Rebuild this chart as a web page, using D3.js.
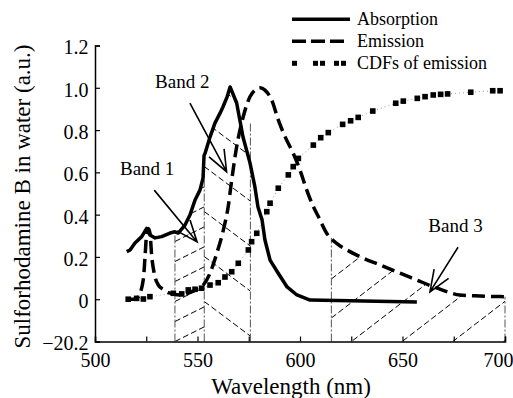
<!DOCTYPE html>
<html>
<head>
<meta charset="utf-8">
<script src="https://cdn.jsdelivr.net/npm/d3@7"></script>
<style>
  html, body { margin: 0; padding: 0; background: #fff; }
  svg { display: block; font-family: "Liberation Serif", "Times New Roman", serif; }
</style>
</head>
<body>
<div id="container"></div>
<script>
const width = 513;
const height = 398;
const marginTop = 45.5;
const marginRight = 8;
const marginBottom = 56.5;
const marginLeft = 95;

// [wavelength nm, value]
const absorption = [[515.5,0.225],[517.1,0.233],[519.5,0.266],[522.8,0.296],[525.2,0.335],[526.8,0.304],
  [529.3,0.29],[532.5,0.296],[536.6,0.313],[539,0.319],[540.6,0.313],[543.9,0.351],[546.3,0.398],
  [548.8,0.469],[551.2,0.516],[552.7,0.573],[553.2,0.68],[553.7,0.69],[556.1,0.767],[558.5,0.833],
  [561,0.88],[562.4,0.909],[564.4,0.956],[565.9,1.004],[569.1,0.928],[572.2,0.767],[575.6,0.645],
  [578,0.531],[579.5,0.436],[581.5,0.375],[582.9,0.28],[585.4,0.185],[589.3,0.124],[593.7,0.058],
  [598.5,0.02],[604.9,-0.004],[657,-0.013]];

const emission = [[515.5,0],[519.5,0],[521.1,0.012],[523.6,0.096],[524.4,0.2],[525.2,0.31],[526,0.335],
  [526.8,0.313],[527.7,0.2],[528.9,0.122],[530.9,0.067],[533.3,0.046],[535.8,0.031],[538.2,0.025],
  [542.3,0.02],[547.2,0.036],[552.8,0.067],[556.1,0.123],[559.4,0.217],[562.6,0.327],[565,0.44],
  [566.5,0.55],[569.1,0.721],[572.3,0.863],[575.6,0.958],[578,0.989],[580.5,1.0],[582.9,0.989],
  [586.2,0.942],[589.4,0.848],[592.7,0.769],[596.7,0.69],[600,0.611],[603.3,0.516],[606.5,0.438],
  [609,0.39],[613,0.312],[617.9,0.264],[624.4,0.225],[630.9,0.194],[639,0.162],[648.8,0.123],
  [656.9,0.091],[665,0.059],[671.6,0.036],[678,0.02],[687.8,0.015],[700,0.012]];

const cdf = [[516.2,0],[520.3,0.004],[523.6,0.001],[526.8,0.012],[538.2,0.028],[542.3,0.025],
  [545.5,0.044],[548.8,0.047],[552,0.052],[556.1,0.067],[560.1,0.078],[563.4,0.105],[566.7,0.13],
  [569.9,0.17],[574.8,0.233],[576.4,0.272],[578.9,0.312],[583.8,0.414],[585.4,0.454],[589.4,0.525],
  [594.3,0.588],[596.7,0.627],[599.2,0.666],[606.5,0.729],[610.1,0.764],[613.8,0.788],[620.8,0.827],
  [624.7,0.844],[628.4,0.86],[635.5,0.89],[646.7,0.927],[650.4,0.937],[657.2,0.95],[661,0.958],
  [665,0.966],[668.6,0.969],[672,0.971],[683.3,0.979],[694,0.986],[697.6,0.986]];

// band edges: [wavelength, top of the dash-dot line]
const bandEdges = [[539,0.319],[553.3,0.59],[575.8,0.84],[615.3,0.29],[700,0.012]];

const bandLabels = ["Band 1", "Band 2", "Band 3"];
const labelPos = [[512.2,0.587],[529.3,0.999],[662.6,0.316]];
const arrowFrom = [[528.9,0.516],[546.3,0.928],[677.1,0.246]];
const arrowTo = [[549.8,0.271],[564.2,0.603],[663.4,0.035]];

const xTicks = d3.range(500, 701, 25);
const yTicks = [-0.2, 0, 0.2, 0.4, 0.6, 0.8, 1.0, 1.2];

const legendItems = ["Absorption", "Emission", "CDFs of emission"];

const x = d3.scaleLinear().domain([500, 700]).range([marginLeft, width - marginRight]);
const y = d3.scaleLinear().domain([-0.2, 1.2]).range([height - marginBottom, marginTop]);

const svg = d3.create("svg")
  .attr("width", width)
  .attr("height", height)
  .attr("viewBox", [0, 0, width, height]);

// hatched band regions
const between = (pts, a, b) => pts.filter(p => p[0] >= a && p[0] <= b);
const band1 = [[539,-0.2], ...between(absorption, 539, 553.3), [553.3,-0.2]];
const band2 = [[553.3,-0.2], ...between(absorption, 553.1, 566), [575.8,0.84], [575.8,-0.2]];
const band3 = [[615.3,-0.2], [615.3,0.29], ...between(emission, 615.4, 700), [700,-0.2]];

// slope: pixel rise per px (positive = going up to the right), spacing vertical px, phase px
const hatch = [
  {poly: band1, slope: 0.5, spacing: 20, phase: 0},
  {poly: band2, slope: -0.75, spacing: 45, phase: 5},
  {poly: band3, slope: 0.77, spacing: 39, phase: 15.5}
];

const defs = svg.append("defs");
hatch.forEach((h, i) => {
  defs.append("clipPath").attr("id", "band" + i)
    .append("polygon")
    .attr("points", h.poly.map(p => [x(p[0]), y(p[1])].join(",")).join(" "));

  const x0 = x(h.poly[0][0]);
  const x1 = x(h.poly[h.poly.length - 1][0]);
  const yb = y(-0.2);
  const lines = [];
  for (let k = -12; k <= 12; k++) {
    const c = yb + h.phase + k * h.spacing;
    lines.push([x0, c, x1, c - h.slope * (x1 - x0)]);
  }
  svg.append("g")
    .attr("clip-path", `url(#band${i})`)
    .selectAll("line")
    .data(lines)
    .join("line")
      .attr("x1", d => d[0]).attr("y1", d => d[1])
      .attr("x2", d => d[2]).attr("y2", d => d[3])
      .attr("stroke", "#000")
      .attr("stroke-width", 1)
      .attr("stroke-dasharray", "6,3");
});

svg.append("g")
  .selectAll("line")
  .data(bandEdges)
  .join("line")
    .attr("x1", d => x(d[0])).attr("x2", d => x(d[0]))
    .attr("y1", y(-0.2)).attr("y2", d => y(d[1]))
    .attr("stroke", "#555")
    .attr("stroke-width", 1)
    .attr("stroke-dasharray", "8,2,2,2");

// axes
svg.append("g")
  .attr("transform", `translate(0,${y(-0.2)})`)
  .call(d3.axisBottom(x).tickValues(xTicks).tickSize(-5).tickPadding(11)
    .tickFormat(d => d % 50 === 0 ? d : ""))
  .call(g => g.select(".domain").attr("stroke-width", 1.5))
  .call(g => g.selectAll(".tick line").attr("stroke-width", 1.2))
  .call(g => g.selectAll("text").attr("font-size", 20).attr("font-family", "Liberation Serif"))
  // last label sits flush with the right edge, as in the original
  .call(g => g.selectAll(".tick text").filter(d => d === 700).attr("text-anchor", "end").attr("x", 8));

svg.append("g")
  .attr("transform", `translate(${marginLeft},0)`)
  .call(d3.axisLeft(y).tickValues(yTicks).tickSize(-5).tickPadding(6.5)
    .tickFormat(d => d === 0 ? "0" : d.toFixed(1).replace("-", "\u22122")))
  .call(g => g.select(".domain").attr("stroke-width", 1.5))
  .call(g => g.selectAll(".tick line").attr("stroke-width", 1.2))
  .call(g => g.selectAll("text").attr("font-size", 20).attr("font-family", "Liberation Serif").attr("dy", "0.42em"));

// curves
const line = d3.line().x(d => x(d[0])).y(d => y(d[1]));

svg.append("path")
  .datum(cdf)
  .attr("fill", "none")
  .attr("stroke", "#999")
  .attr("stroke-width", 1)
  .attr("stroke-dasharray", "1,3")
  .attr("d", line);

svg.append("g")
  .selectAll("rect")
  .data(cdf)
  .join("rect")
    .attr("x", d => x(d[0]) - 2.8)
    .attr("y", d => y(d[1]) - 2.8)
    .attr("width", 5.6)
    .attr("height", 5.6)
    .attr("fill", "#000");

svg.append("path")
  .datum(emission)
  .attr("fill", "none")
  .attr("stroke", "#000")
  .attr("stroke-width", 3.5)
  .attr("stroke-dasharray", "13,6")
  .attr("d", line.curve(d3.curveMonotoneX));

svg.append("path")
  .datum(absorption)
  .attr("fill", "none")
  .attr("stroke", "#000")
  .attr("stroke-width", 3.5)
  .attr("stroke-linejoin", "round")
  .attr("d", d3.line().x(d => x(d[0])).y(d => y(d[1])));

// band annotations
const ann = svg.append("g");
bandLabels.forEach((label, i) => {
  ann.append("text")
    .attr("x", x(labelPos[i][0]))
    .attr("y", y(labelPos[i][1]))
    .attr("font-size", 19)
    .text(label);

  const fx = x(arrowFrom[i][0]), fy = y(arrowFrom[i][1]);
  const tx = x(arrowTo[i][0]), ty = y(arrowTo[i][1]);
  const ang = Math.atan2(fy - ty, fx - tx);
  const wing = 23, spread = 0.38;
  const path = d3.path();
  path.moveTo(fx, fy);
  path.lineTo(tx, ty);
  path.moveTo(tx + wing * Math.cos(ang - spread), ty + wing * Math.sin(ang - spread));
  path.lineTo(tx, ty);
  path.lineTo(tx + wing * Math.cos(ang + spread), ty + wing * Math.sin(ang + spread));
  ann.append("path")
    .attr("d", path.toString())
    .attr("fill", "none")
    .attr("stroke", "#000")
    .attr("stroke-width", 1.6);
});

// legend
const legend = svg.append("g").attr("transform", "translate(292,0)");
legendItems.forEach((name, i) => {
  const ly = 19.3 + i * 22;
  const g = legend.append("g").attr("transform", `translate(0,${ly})`);
  if (i === 0) {
    g.append("line").attr("x1", 0).attr("x2", 58).attr("stroke", "#000").attr("stroke-width", 3.5);
  } else if (i === 1) {
    g.append("line").attr("x1", 0).attr("x2", 52).attr("stroke", "#000").attr("stroke-width", 3.5)
      .attr("stroke-dasharray", "14,5");
  } else {
    g.selectAll("rect")
      .data([0, 21, 28, 42, 49])
      .join("rect")
        .attr("x", d => d).attr("y", -2.5)
        .attr("width", 5).attr("height", 5)
        .attr("fill", "#000");
  }
  g.append("text")
    .attr("x", 65)
    .attr("y", 6)
    .attr("font-size", 18)
    .text(name);
});

// axis titles
svg.append("text")
  .attr("x", 291)
  .attr("y", 394)
  .attr("text-anchor", "middle")
  .attr("font-size", 23)
  .text("Wavelength (nm)");

svg.append("text")
  .attr("transform", "translate(30,196.5) rotate(-90)")
  .attr("text-anchor", "middle")
  .attr("font-size", 23)
  .text("Sulforhodamine B in water (a.u.)");

document.getElementById("container").appendChild(svg.node());
</script>
</body>
</html>
